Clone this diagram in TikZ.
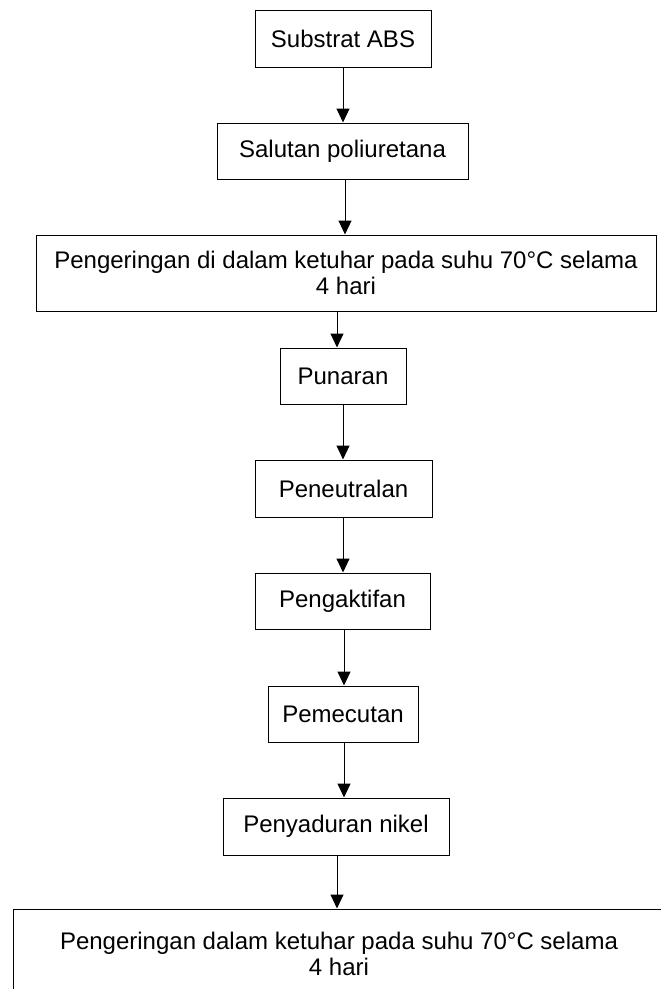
\documentclass[tikz,border=0pt]{standalone}
\usepackage{fontspec}
\setmainfont{Liberation Sans}
\usetikzlibrary{arrows.meta}
\begin{document}
\begin{tikzpicture}[x=1pt,y=-1pt,
  stepbox/.style={draw=black,line width=1pt,rectangle,inner sep=0pt,align=center,
    font=\fontsize{24}{26}\selectfont},
  arr/.style={draw=black,line width=1pt,-{Triangle[width=13pt,length=14pt]}}]
\useasboundingbox (0,0) rectangle (661,989);
\node[stepbox,minimum width=176,minimum height=57] (b1) at (343,38.5) {Substrat ABS};
\node[stepbox,minimum width=251,minimum height=56] (b2) at (342.5,151) {Salutan poliuretana};
\node[stepbox,minimum width=620,minimum height=76] (b3) at (346,273) {Pengeringan di dalam ketuhar pada suhu 70°C selama\\4 hari};
\node[stepbox,minimum width=126,minimum height=56] (b4) at (343,376) {Punaran};
\node[stepbox,minimum width=177,minimum height=57] (b5) at (343.5,488.5) {Peneutralan};
\node[stepbox,minimum width=175,minimum height=56] (b6) at (342.5,601) {Pengaktifan};
\node[stepbox,minimum width=150,minimum height=56] (b7) at (343,714) {Pemecutan};
\node[stepbox,minimum width=226,minimum height=57] (b8) at (336,826.5) {Penyaduran nikel};
\node[stepbox,minimum width=652,minimum height=90] (b9) at (339,954) {Pengeringan dalam ketuhar pada suhu 70°C selama\\4 hari};
\coordinate (s1) at (b1.south);
\coordinate (s2) at ([xshift=2.5pt]b2.south);
\coordinate (s3) at ([xshift=-9pt]b3.south);
\coordinate (s4) at (b4.south);
\coordinate (s5) at ([xshift=-0.5pt]b5.south);
\coordinate (s6) at ([xshift=1.5pt]b6.south);
\coordinate (s7) at ([xshift=1pt]b7.south);
\coordinate (s8) at ([xshift=1pt]b8.south);
\draw[arr] (s1) -- (s1 |- b2.north);
\draw[arr] (s2) -- (s2 |- b3.north);
\draw[arr] (s3) -- (s3 |- b4.north);
\draw[arr] (s4) -- (s4 |- b5.north);
\draw[arr] (s5) -- (s5 |- b6.north);
\draw[arr] (s6) -- (s6 |- b7.north);
\draw[arr] (s7) -- (s7 |- b8.north);
\draw[arr] (s8) -- (s8 |- b9.north);
\end{tikzpicture}
\end{document}
